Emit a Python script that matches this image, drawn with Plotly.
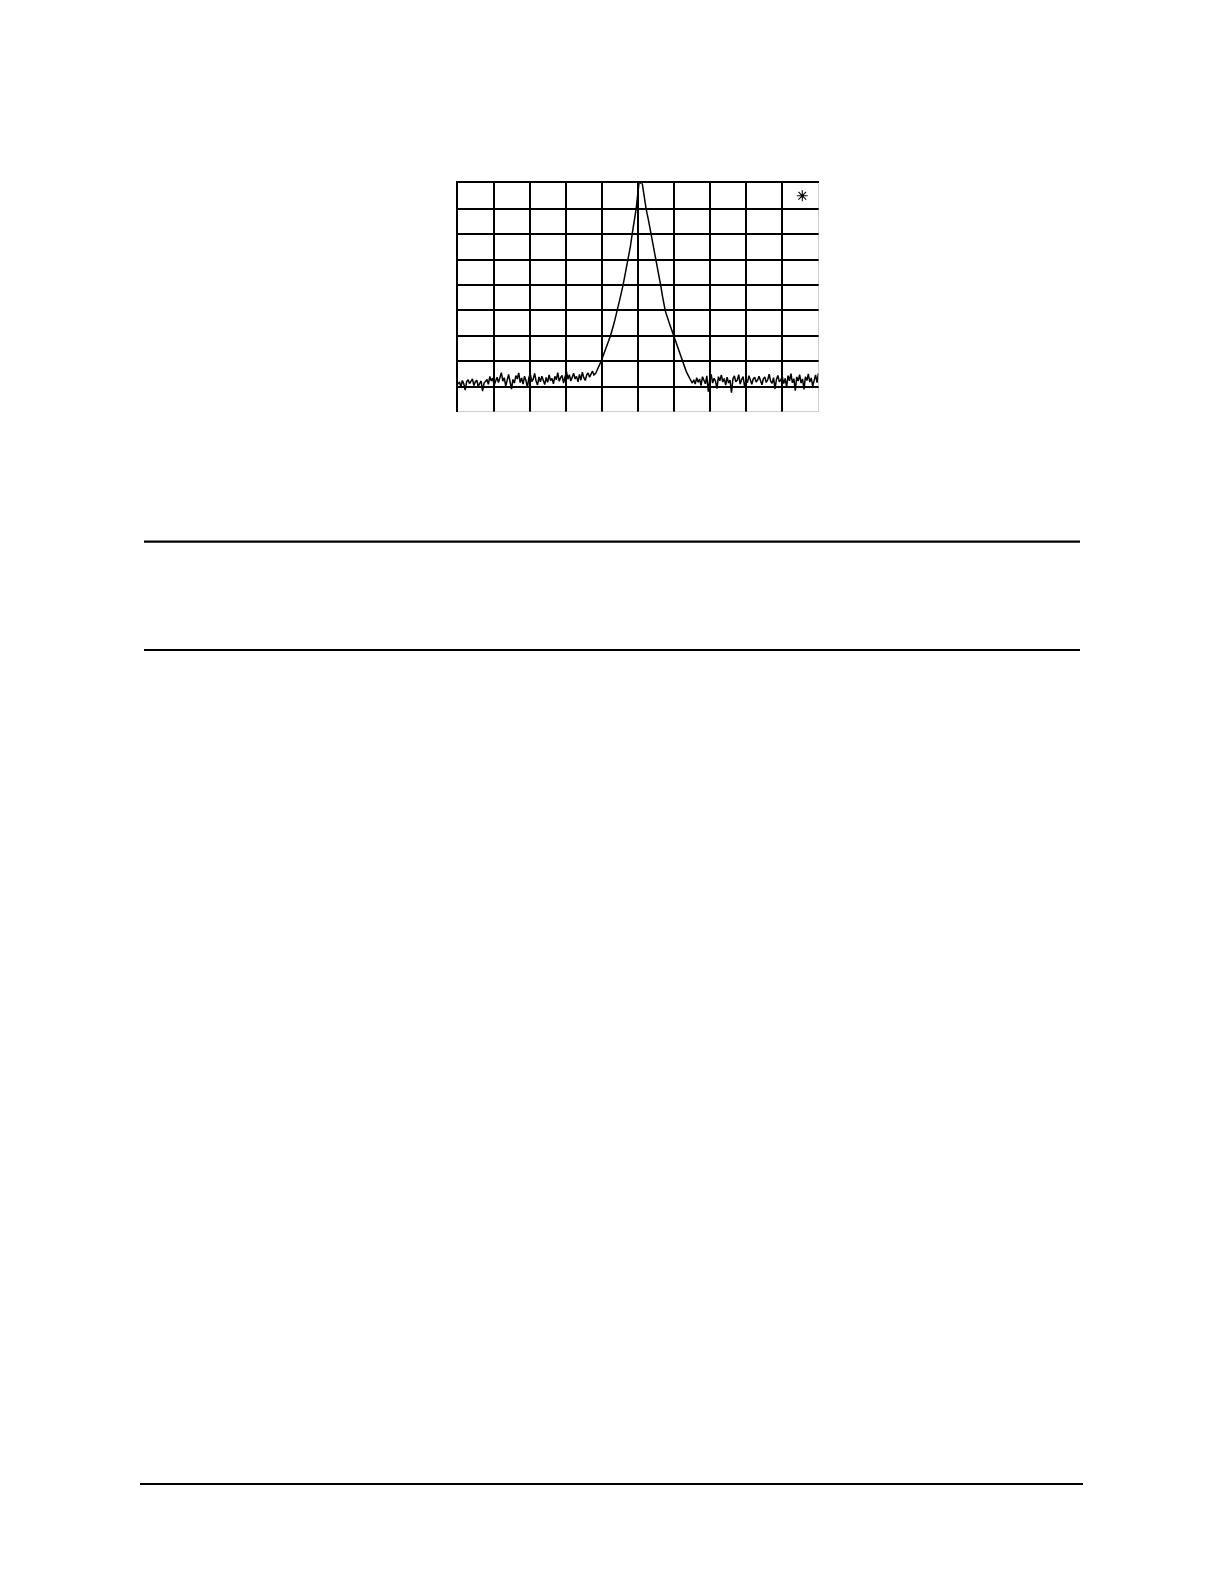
import numpy as np
import plotly.graph_objects as go

# spectrum trace: 10 horizontal divisions, 10 dB/div, 0 dB at the top
noise_left_db = [
    -79.0, -78.2, -80.1, -77.6, -78.9, -81.4, -78.0, -77.3, -78.8, -77.9,
    -77.0, -79.6, -78.1, -77.5, -80.0, -78.7, -77.8, -81.8, -78.6, -78.0,
    -77.2, -79.1, -76.0, -77.8, -76.7, -79.5, -77.4, -76.3, -78.4, -76.2,
    -74.5, -77.9, -76.5, -79.8, -77.0, -75.2, -78.1, -81.0, -77.2, -78.6,
    -75.7, -77.0, -74.6, -78.4, -76.6, -79.0, -75.9, -77.6, -80.3, -76.5,
    -75.1, -78.0, -77.1, -74.8, -77.8, -79.4, -76.2, -78.1, -75.9, -77.4,
    -79.2, -76.4, -78.3, -75.4, -77.6, -76.8, -78.9, -76.0, -77.3, -74.5,
    -77.9, -76.5, -75.6, -78.6, -76.2, -74.0, -77.1, -75.3, -77.8, -76.6,
    -74.8, -77.0, -76.0, -78.1, -75.2, -77.5, -74.3, -76.5, -77.6, -75.5,
    -74.6, -76.3, -75.1, -73.9, -75.4,
]
noise_left_span = (0.0, 3.77)

peak_freq = [3.82, 3.97, 4.10, 4.23, 4.33, 4.42, 4.50, 4.58, 4.65, 4.72,
             4.78, 4.83, 4.89, 4.94, 4.98, 5.02, 5.11, 5.16, 5.22, 5.29,
             5.36, 5.42, 5.48, 5.55, 5.62, 5.68, 5.75, 5.86, 5.98, 6.10,
             6.22, 6.33, 6.45]
peak_db = [-74.8, -70.0, -65.0, -60.0, -55.0, -50.2, -45.0, -40.0, -35.0, -29.9,
           -25.0, -20.1, -15.0, -10.2, -5.0, 0.0, 0.0, -5.0, -10.2, -15.0,
           -20.1, -25.0, -29.9, -35.0, -40.0, -45.0, -50.2, -55.0, -60.0, -65.0,
           -70.0, -74.0, -77.4]

noise_right_db = [
    -78.6, -77.3, -79.0, -76.5, -78.3, -77.0, -79.6, -76.1, -77.9, -78.9,
    -75.8, -82.0, -77.1, -75.2, -78.6, -76.7, -77.9, -80.8, -76.1, -77.7,
    -75.4, -78.2, -76.8, -79.4, -76.3, -78.6, -77.4, -82.4, -77.0, -75.8,
    -78.1, -77.5, -75.3, -79.0, -77.2, -76.1, -79.9, -77.8, -78.4, -75.7,
    -77.3, -79.1, -77.0, -76.3, -78.2, -77.5, -75.9, -77.8, -79.3, -76.9,
    -76.2, -78.4, -77.3, -75.1, -77.9, -78.7, -76.5, -80.9, -77.2, -75.6,
    -78.1, -77.4, -76.0, -78.8, -76.8, -80.2, -75.7, -77.7, -74.9, -78.5,
    -76.9, -81.6, -76.2, -77.8, -75.3, -78.6, -77.0, -81.1, -76.1, -77.6,
    -75.0, -78.2, -76.6, -79.8, -77.1, -75.4, -78.4, -74.7,
]
noise_right_span = (6.50, 10.0)

marker_pos = (9.55, -4.9)

# the page body has an 8px margin, so the figure is placed at (8, 8)
OFF = 8
W, H = 1224 - OFF, 1584 - OFF


def px_x(p):
    return (p - OFF) / W


def px_y(p):
    return 1 - (p - OFF) / H


freq = np.concatenate([
    np.linspace(*noise_left_span, len(noise_left_db)),
    peak_freq,
    np.linspace(*noise_right_span, len(noise_right_db)),
])
level = np.concatenate([noise_left_db, peak_db, noise_right_db])

fig = go.Figure()
fig.add_trace(go.Scatter(
    x=freq, y=level, mode="lines",
    line=dict(color="black", width=1.5),
    hoverinfo="skip", showlegend=False,
))
fig.add_trace(go.Scatter(
    x=[marker_pos[0]], y=[marker_pos[1]], mode="markers",
    marker=dict(symbol="asterisk-open", size=9, color="black",
                line=dict(color="black", width=1.1)),
    hoverinfo="skip", showlegend=False,
))

fig.update_xaxes(
    domain=[px_x(458), px_x(818.5)], range=[0, 10], dtick=1,
    showgrid=True, gridcolor="black", gridwidth=1.5,
    zeroline=False, showticklabels=False, ticks="",
    showline=True, linecolor="black", linewidth=1.5, side="top",
)
fig.update_yaxes(
    domain=[px_y(412), px_y(183.3)], range=[-90, 0], dtick=10,
    showgrid=True, gridcolor="black", gridwidth=1.5,
    zeroline=False, showticklabels=False, ticks="",
    showline=True, linecolor="black", linewidth=1.5,
)

# lighter right / bottom edge of the graticule
fig.add_shape(type="line", xref="x", yref="y", x0=10, x1=10, y0=-90, y1=0,
              line=dict(color="#9a9a9a", width=1))
fig.add_shape(type="line", xref="x", yref="y", x0=0, x1=10, y0=-90, y1=-90,
              line=dict(color="#9a9a9a", width=1))

# page rules
for y, x0, x1 in [(541.7, 144, 1080), (650, 144, 1080), (1484, 140, 1083)]:
    fig.add_shape(type="line", xref="paper", yref="paper",
                  x0=px_x(x0), x1=px_x(x1), y0=px_y(y), y1=px_y(y),
                  line=dict(color="black", width=2.2))

fig.update_layout(
    width=W, height=H,
    margin=dict(l=0, r=0, t=0, b=0),
    paper_bgcolor="white", plot_bgcolor="white",
    font=dict(family="Liberation Sans"),
)

fig.write_html("out.html")
